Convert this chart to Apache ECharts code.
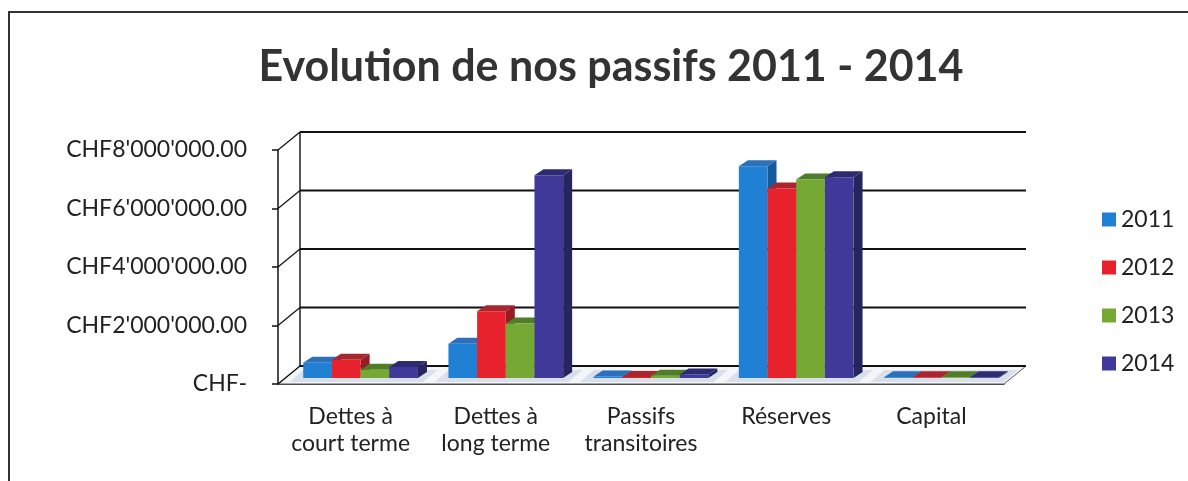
<!DOCTYPE html>
<html style="height: 100%">
    <head>
        <title>Evolution de nos passifs 2011 - 2014</title>
        <script type="text/javascript" src="https://fastly.jsdelivr.net/npm/echarts@6/dist/echarts.min.js"></script>
    </head>
    <body style="height: 100%; margin: 0; background: #fff">
        <div id="target" style="width: 1188px; height: 481px"></div>

<script>
// data
let categories = ["Dettes à\ncourt terme", "Dettes à\nlong terme", "Passifs\ntransitoires", "Réserves", "Capital"];
let years = ["2011", "2012", "2013", "2014"];
let values2011 = [520000, 1170000, 50000, 7240000, 25000];
let values2012 = [620000, 2280000, 35000, 6480000, 25000];
let values2013 = [280000, 1860000, 80000, 6790000, 25000];
let values2014 = [380000, 6930000, 120000, 6860000, 25000];
let yTicks = [0, 2000000, 4000000, 6000000, 8000000];

let seriesValues = [values2011, values2012, values2013, values2014];

// front / top / side shades per year
let shades = [
    { front: "#1f80d4", top: "#2b70b8", side: "#17599a" },
    { front: "#e8222c", top: "#a8262c", side: "#951c22" },
    { front: "#76a934", top: "#4f7d28", side: "#466e22" },
    { front: "#40399a", top: "#2d2b72", side: "#27255e" },
];

// depth of the back wall and of each bar
let wallDx = 22, wallDy = -18;
let barOx = 10, barOy = -6;
let barDx = 9, barDy = -6;

let chart = echarts.init(document.getElementById('target'));

let fmtCHF = (v) => {
    if (v === 0) return "CHF-";
    let parts = v.toFixed(2).split(".");
    let s = parts[0].replace(/\B(?=(\d{3})+(?!\d))/g, "'");
    return "CHF" + s + "." + parts[1];
};

let gridEdges = (api) => {
    let catW = api.size([1, 0])[0];
    let left = api.coord([0, 0])[0] - catW / 2;
    let right = api.coord([categories.length - 1, 0])[0] + catW / 2;
    return { catW, left, right };
};

// back wall, diagonal tick connectors and floor
let wallSeries = {
    type: "custom",
    silent: true,
    z: 1,
    data: yTicks.map(v => [0, v]),
    renderItem: (params, api) => {
        let e = gridEdges(api);
        let y = api.coord([0, api.value(1)])[1];
        let children = [
            {
                type: "line",
                shape: { x1: e.left + wallDx, y1: y + wallDy, x2: e.right + wallDx, y2: y + wallDy },
                style: { stroke: "#111", lineWidth: 1.8 },
            },
            {
                type: "line",
                shape: { x1: e.left, y1: y, x2: e.left + wallDx, y2: y + wallDy },
                style: { stroke: "#111", lineWidth: 1.2 },
            },
        ];
        if (params.dataIndex === 0)
        {
            let yTop = api.coord([0, yTicks[yTicks.length - 1]])[1];
            children.unshift({
                type: "polygon",
                shape: { points: [[e.left, y], [e.right, y], [e.right + wallDx, y + wallDy], [e.left + wallDx, y + wallDy]] },
                style: { fill: "#f3f5f9", stroke: "#555", lineWidth: 1 },
            });
            children.push({
                type: "line",
                shape: { x1: e.left + wallDx, y1: y + wallDy, x2: e.left + wallDx, y2: yTop + wallDy },
                style: { stroke: "#111", lineWidth: 1.4 },
            });
            // pale shadows under each group
            for (let j = 0; j < categories.length; j++)
            {
                let cx = api.coord([j, 0])[0];
                let x0 = cx - e.catW * 0.42, x1 = cx + e.catW * 0.5;
                children.push({
                    type: "polygon",
                    shape: { points: [[x0, y - 2], [x1, y - 2], [x1 + 14, y - 14], [x0 + 14, y - 14]] },
                    style: { fill: "#d9dfeb" },
                });
            }
        }
        return { type: "group", children };
    },
};

let makeBarSeries = (k) => ({
    type: "custom",
    name: years[k],
    z: 2 + k,
    itemStyle: { color: shades[k].front },
    data: seriesValues[k].map((v, j) => [j, v]),
    renderItem: (params, api) => {
        let e = gridEdges(api);
        let bw = e.catW * 0.79 / years.length;
        let cx = api.coord([api.value(0), 0])[0];
        let base = api.coord([0, 0])[1] + barOy;
        let top = api.coord([0, api.value(1)])[1] + barOy;
        let x = cx - e.catW * 0.79 / 2 + barOx + k * bw;
        let s = shades[k];
        return {
            type: "group",
            children: [
                {
                    type: "polygon",
                    shape: { points: [[x + bw, top], [x + bw + barDx, top + barDy], [x + bw + barDx, base + barDy], [x + bw, base]] },
                    style: { fill: s.side },
                },
                {
                    type: "polygon",
                    shape: { points: [[x, top], [x + bw, top], [x + bw + barDx, top + barDy], [x + barDx, top + barDy]] },
                    style: { fill: s.top },
                },
                {
                    type: "rect",
                    shape: { x: x, y: top, width: bw, height: base - top },
                    style: { fill: s.front },
                },
            ],
        };
    },
});

let option = {
    animation: false,
    title: {
        text: "Evolution de nos passifs 2011 - 2014",
        left: 606,
        textAlign: "center",
        top: 41,
        textStyle: {
            fontFamily: "Lato",
            fontWeight: "bold",
            fontSize: 43,
            color: "#333",
        },
    },
    legend: {
        orient: "vertical",
        left: 1097,
        top: 203,
        itemWidth: 14,
        itemHeight: 14,
        itemGap: 25,
        itemStyle: { borderWidth: 0 },
        icon: "rect",
        data: years,
        textStyle: { fontFamily: "Lato", fontSize: 23, color: "#222" },
    },
    grid: {
        left: 278,
        top: 150,
        width: 726,
        height: 234,
    },
    xAxis: {
        type: "category",
        data: categories,
        axisLine: { lineStyle: { color: "#111", width: 1.5 } },
        axisTick: { length: 7, lineStyle: { color: "#111", width: 1.5 } },
        axisLabel: {
            fontFamily: "Lato",
            fontSize: 23,
            color: "#222",
            margin: 19,
            lineHeight: 27,
            interval: 0,
        },
    },
    yAxis: {
        type: "value",
        min: 0,
        max: 8000000,
        interval: 2000000,
        axisLine: { show: true, lineStyle: { color: "#111", width: 1.5 } },
        axisTick: { show: true, length: 6, lineStyle: { color: "#111", width: 1.5 } },
        splitLine: { show: false },
        axisLabel: {
            fontFamily: "Lato",
            fontSize: 23,
            color: "#222",
            margin: 31,
            formatter: fmtCHF,
        },
    },
    graphic: [
        {
            type: "rect",
            shape: { x: 9, y: 12, width: 1200, height: 500 },
            style: { fill: "none", stroke: "#333", lineWidth: 2 },
            silent: true,
        },
    ],
    series: [wallSeries].concat(years.map((y, k) => makeBarSeries(k))),
};

chart.setOption(option);
</script>
    </body>
</html>
